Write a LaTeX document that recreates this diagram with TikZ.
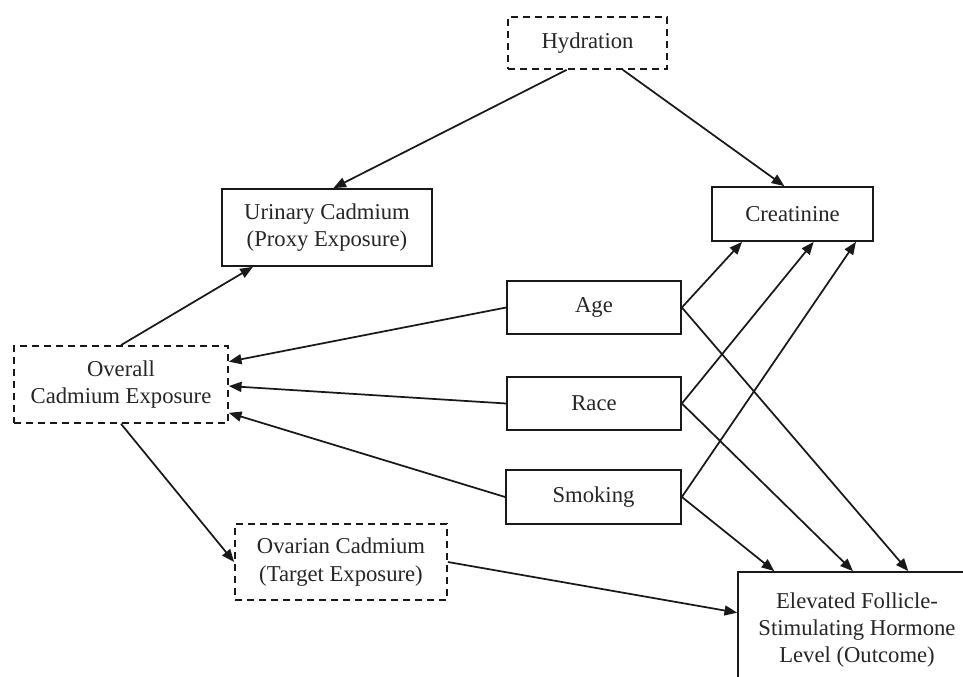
\documentclass[tikz,border=0pt]{standalone}
\usepackage{fontspec}
\setmainfont{Liberation Serif}
\usetikzlibrary{arrows.meta,calc}
\begin{document}
\begin{tikzpicture}[x=0.75pt,y=-0.75pt,
  box/.style={draw=black!90,line width=1.3pt,text=black!85,align=center,inner sep=0pt,
    font=\fontsize{17}{20.5}\selectfont},
  dbox/.style={box,dash pattern=on 5.5pt off 3.5pt},
  arr/.style={draw=black!90,line width=1.3pt,-{Triangle[length=9.5pt,width=7.5pt]}}]
\clip (0,0) rectangle (963,677);
\fill[white] (0,0) rectangle (963,677);
\node[dbox,minimum width=159*0.75pt,minimum height=52*0.75pt] (hyd) at (587.5,43) {Hydration};
\node[box,minimum width=210*0.75pt,minimum height=77*0.75pt] (uri) at (327,227.5) {Urinary Cadmium\\(Proxy Exposure)};
\node[box,minimum width=161*0.75pt,minimum height=54*0.75pt] (cre) at (792.5,214) {Creatinine};
\node[box,minimum width=174*0.75pt,minimum height=53*0.75pt] (age) at (594,307.5) {Age};
\node[box,minimum width=174*0.75pt,minimum height=53*0.75pt] (race) at (594,403.5) {Race};
\node[box,minimum width=175*0.75pt,minimum height=54*0.75pt] (smk) at (593.5,497) {Smoking};
\node[dbox,minimum width=214*0.75pt,minimum height=77*0.75pt] (ov) at (121,384.5) {Overall\\Cadmium Exposure};
\node[dbox,minimum width=212*0.75pt,minimum height=76*0.75pt] (ova) at (341,562) {Ovarian Cadmium\\(Target Exposure)};
\node[box,minimum width=238*0.75pt,minimum height=116*0.75pt,font=\fontsize{17}{20.3}\selectfont] (fsh) at (857,630) {Elevated Follicle-\\Stimulating Hormone\\Level (Outcome)};

\draw[arr] ($(hyd.south west)!0.37!(hyd.south east)$) -- ($(uri.north west)!0.53!(uri.north east)$);
\draw[arr] ($(hyd.south west)!0.72!(hyd.south east)$) -- ($(cre.north west)!0.45!(cre.north east)$);
\draw[arr] (ov.north) -- ($(uri.south west)!0.15!(uri.south east)$);
\draw[arr] (ov.south) -- (ova.west);
\draw[arr] (ova.east) -- ($(fsh.north west)!0.353!(fsh.south west)$);
\draw[arr] (age.west) -- ($(ov.north east)!0.21!(ov.south east)$);
\draw[arr] (race.west) -- ($(ov.north east)!0.52!(ov.south east)$);
\draw[arr] (smk.west) -- ($(ov.north east)!0.86!(ov.south east)$);
\draw[arr] (age.east) -- ($(cre.south west)!0.19!(cre.south east)$);
\draw[arr] (race.east) -- ($(cre.south west)!0.63!(cre.south east)$);
\draw[arr] (smk.east) -- ($(cre.south west)!0.89!(cre.south east)$);
\draw[arr] (age.east) -- ($(fsh.north west)!0.714!(fsh.north east)$);
\draw[arr] (race.east) -- ($(fsh.north west)!0.483!(fsh.north east)$);
\draw[arr] (smk.east) -- ($(fsh.north west)!0.155!(fsh.north east)$);
\end{tikzpicture}
\end{document}
